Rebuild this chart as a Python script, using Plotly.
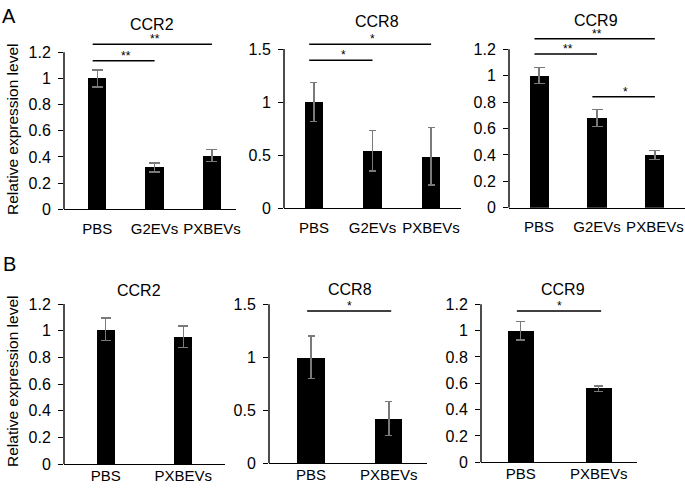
import plotly.graph_objects as go

W, H = 685, 490

# ---------------- data ----------------
cats_A = ["PBS", "G2EVs", "PXBEVs"]
cats_B = ["PBS", "PXBEVs"]

ccr2_A = [1.00, 0.32, 0.41]
ccr2_A_err = [0.065, 0.035, 0.045]
ccr8_A = [1.00, 0.54, 0.49]
ccr8_A_err = [0.185, 0.19, 0.27]
ccr9_A = [1.00, 0.68, 0.40]
ccr9_A_err = [0.06, 0.065, 0.035]

ccr2_B = [1.01, 0.955]
ccr2_B_err = [0.085, 0.08]
ccr8_B = [1.00, 0.42]
ccr8_B_err = [0.20, 0.16]
ccr9_B = [1.00, 0.56]
ccr9_B_err = [0.07, 0.02]

ticks_12 = [0, 0.2, 0.4, 0.6, 0.8, 1.0, 1.2]
ticks_15 = [0, 0.5, 1.0, 1.5]

# significance comparisons: (group i, group j, bracket height, label)
sig_ccr2_A = [(0, 2, 1.261, "**"), (0, 1, 1.136, "**")]
sig_ccr8_A = [(0, 2, 1.544, "*"), (0, 1, 1.394, "*")]
sig_ccr9_A = [(0, 2, 1.28, "**"), (0, 1, 1.164, "**"), (1, 2, 0.841, "*")]
sig_ccr2_B = []
sig_ccr8_B = [(0, 1, 1.437, "*")]
sig_ccr9_B = [(0, 1, 1.149, "*")]

# ---------------- layout per panel ----------------
panels = [
    dict(title="CCR2", cats=cats_A, vals=ccr2_A, errs=ccr2_A_err, ticks=ticks_12, ext=1.4,
         sig=sig_ccr2_A, xpx=(64, 236), xr=[-0.58, 2.42], zero=209.3, top=52.3,
         bw=0.32, cap=5.5, tpos=(152, 25), row="A"),
    dict(title="CCR8", cats=cats_A, vals=ccr8_A, errs=ccr8_A_err, ticks=ticks_15, ext=1.7,
         sig=sig_ccr8_A, xpx=(284, 461), xr=[-0.51, 2.51], zero=208.3, top=49,
         bw=0.32, cap=3.5, tpos=(377, 22), row="A"),
    dict(title="CCR9", cats=cats_A, vals=ccr9_A, errs=ccr9_A_err, ticks=ticks_12, ext=1.4,
         sig=sig_ccr9_A, xpx=(509, 685), xr=[-0.52, 2.52], zero=207.7, top=49.3,
         bw=0.33, cap=5.5, tpos=(596, 21), row="A"),
    dict(title="CCR2", cats=cats_B, vals=ccr2_B, errs=ccr2_B_err, ticks=ticks_12, ext=1.3,
         sig=sig_ccr2_B, xpx=(64, 225), xr=[-0.54, 1.54], zero=464.3, top=304,
         bw=0.24, cap=5, tpos=(139, 290), row="B"),
    dict(title="CCR8", cats=cats_B, vals=ccr8_B, errs=ccr8_B_err, ticks=ticks_15, ext=1.6,
         sig=sig_ccr8_B, xpx=(269, 427), xr=[-0.54, 1.49], zero=463.3, top=304.3,
         bw=0.35, cap=3.5, tpos=(350, 289), row="B"),
    dict(title="CCR9", cats=cats_B, vals=ccr9_B, errs=ccr9_B_err, ticks=ticks_12, ext=1.3,
         sig=sig_ccr9_B, xpx=(481, 637), xr=[-0.51, 1.49], zero=462.3, top=304.3,
         bw=0.34, cap=4.5, tpos=(563, 289), row="B"),
]

FONT = "Liberation Sans, Arial, sans-serif"
fig = go.Figure()
layout = dict(width=W, height=H, margin=dict(l=0, r=0, t=0, b=0, autoexpand=False),
              paper_bgcolor="white", plot_bgcolor="white", showlegend=False,
              font=dict(family=FONT, color="black", size=15), bargap=0)
shapes, annotations = [], []

for k, p in enumerate(panels, start=1):
    sfx = "" if k == 1 else str(k)
    xa, ya = f"x{sfx}", f"y{sfx}"
    xkey, ykey = f"xaxis{sfx}", f"yaxis{sfx}"
    tickmax = p["ticks"][-1]
    ppu = (p["zero"] - p["top"]) / tickmax
    top_px = p["zero"] - p["ext"] * ppu
    ydom = [1 - p["zero"] / H, 1 - top_px / H]
    xdom = [p["xpx"][0] / W, min(p["xpx"][1] / W, 1.0)]

    fig.add_trace(go.Bar(
        x=p["cats"], y=p["vals"], xaxis=xa, yaxis=ya, width=p["bw"],
        marker=dict(color="black", line=dict(width=0)),
        error_y=dict(type="data", array=p["errs"], visible=True,
                     color="#7a7a7a", thickness=1.3, width=p["cap"]),
    ))

    standoff = 5 if p["row"] == "A" else -3
    layout[xkey] = dict(domain=xdom, anchor=ya, type="category", range=p["xr"],
                        showline=True, linecolor="black", linewidth=1.4,
                        ticks="", showgrid=False, zeroline=False, automargin=False,
                        tickfont=dict(size=15), ticklabelstandoff=standoff,
                        fixedrange=True)
    layout[ykey] = dict(domain=ydom, anchor=xa, range=[0, p["ext"]],
                        tickmode="array", tickvals=p["ticks"],
                        ticks="outside", ticklen=5, tickwidth=1.2, tickcolor="black",
                        ticklabelstandoff=4, automargin=False,
                        showline=False, showgrid=False, zeroline=False,
                        tickfont=dict(size=16), fixedrange=True)
    # y axis line only up to the top tick
    shapes.append(dict(type="line", xref=f"{xa} domain", yref=ya, x0=0, x1=0,
                       y0=0, y1=tickmax, line=dict(color="black", width=1.4)))

    dx0, dx1 = (-0.08, 0.0) if p["row"] == "A" else (-0.05, 0.03)
    for i, j, h, lab in p["sig"]:
        shapes.append(dict(type="line", xref=xa, yref=ya, x0=i + dx0, x1=j + dx1,
                           y0=h, y1=h, line=dict(color="black", width=1.5)))
        annotations.append(dict(xref=xa, yref=ya, x=(i + j) / 2, y=h, text=lab,
                                showarrow=False, yanchor="bottom", yshift=-4,
                                font=dict(size=12)))

    annotations.append(dict(xref="paper", yref="paper", x=p["tpos"][0] / W,
                            y=1 - p["tpos"][1] / H, text=p["title"], showarrow=False,
                            xanchor="center", yanchor="middle", font=dict(size=16)))

# y-axis titles and panel letters
for cy in (130, 382):
    annotations.append(dict(xref="paper", yref="paper", x=12 / W, y=1 - cy / H,
                            text="Relative expression level", textangle=-90,
                            showarrow=False, xanchor="center", yanchor="middle",
                            font=dict(size=15.5)))
annotations.append(dict(xref="paper", yref="paper", x=8.5 / W, y=1 - 15.5 / H, text="A",
                        showarrow=False, xanchor="center", yanchor="middle",
                        font=dict(size=20)))
annotations.append(dict(xref="paper", yref="paper", x=9 / W, y=1 - 263.5 / H, text="B",
                        showarrow=False, xanchor="center", yanchor="middle",
                        font=dict(size=20)))

layout["shapes"] = shapes
layout["annotations"] = annotations
fig.update_layout(**layout)
fig.write_html("out.html", config={"displayModeBar": False},
               post_script="document.body.style.margin='0px';document.body.style.overflow='hidden';")
